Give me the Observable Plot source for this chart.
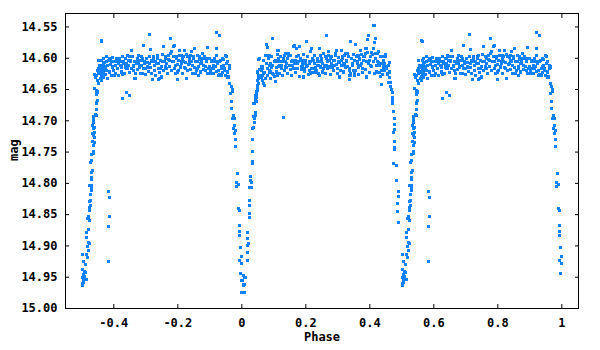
<!DOCTYPE html>
<html><head><meta charset="utf-8">
<script src="https://cdn.jsdelivr.net/npm/d3@7"></script>
<script src="https://cdn.jsdelivr.net/npm/@observablehq/plot@0.6"></script>
<style>
html,body{margin:0;padding:0;background:#fff;}
#chart svg{display:block;}
</style>
</head><body><div id="chart"></div>
<script>
// Tick values and labels
const xTicks = [-0.4, -0.2, 0, 0.2, 0.4, 0.6, 0.8, 1];
const xTickLabels = ["-0.4", "-0.2", "0", "0.2", "0.4", "0.6", "0.8", "1"];
const yTicks = [14.55, 14.60, 14.65, 14.70, 14.75, 14.80, 14.85, 14.90, 14.95, 15.00];
const yTickLabels = ["14.55", "14.60", "14.65", "14.70", "14.75", "14.80", "14.85", "14.90", "14.95", "15.00"];

// [phase, mag] observations, phase in [0, 1)
const secEgress = [
[0.000,14.956],[0.003,14.955],[0.006,14.961],[0.009,14.961],[0.006,14.964],[0.000,14.974],[0.006,14.974],[0.009,14.974],
[0.009,14.950],[0.012,14.951],[0.004,14.948],[0.019,14.923],[0.019,14.911],[0.019,14.899],[0.022,14.896],[0.019,14.888],
[0.019,14.879],[0.025,14.855],[0.025,14.848],[0.025,14.835],[0.025,14.827],[0.031,14.807],[0.025,14.806],[0.031,14.799],
[0.028,14.795],[0.028,14.789],[0.034,14.769],[0.034,14.765],[0.034,14.749],[0.034,14.730],[0.034,14.712],[0.0375,14.711],
[0.041,14.702],[0.041,14.697],[0.0375,14.693],[0.044,14.691],[0.044,14.687],[0.0375,14.672],[0.047,14.669],[0.044,14.665],
[0.047,14.662],[0.044,14.659],[0.047,14.655],[0.050,14.652]
];
const plateauA = [
[0.038,14.672],[0.044,14.667],[0.044,14.662],[0.047,14.658],[0.047,14.653],[0.050,14.647],[0.050,14.644],[0.053,14.641],
[0.050,14.636],[0.053,14.633],[0.053,14.627],[0.050,14.622],[0.056,14.618],[0.053,14.602],[0.056,14.600],[0.060,14.619],
[0.063,14.627],[0.066,14.617],[0.069,14.625],[0.069,14.641],[0.072,14.643],[0.075,14.596],[0.078,14.578],[0.081,14.583],
[0.078,14.595],[0.085,14.596],[0.088,14.598],[0.085,14.611],[0.081,14.617],[0.088,14.622],[0.091,14.609],[0.094,14.614],
[0.097,14.569],[0.100,14.626],[0.103,14.606],[0.106,14.637],[0.110,14.628],[0.113,14.587],[0.113,14.606],[0.116,14.601],
[0.119,14.611],[0.122,14.598],[0.125,14.617],[0.128,14.606],[0.131,14.601],[0.135,14.614],[0.138,14.593],[0.141,14.609],
[0.144,14.601],[0.147,14.596],[0.150,14.611],[0.153,14.595],[0.156,14.606],[0.160,14.582],[0.163,14.617],[0.166,14.580],
[0.169,14.603],[0.172,14.585],[0.175,14.609],[0.178,14.595],[0.181,14.582],[0.185,14.614],[0.188,14.603],[0.191,14.611],
[0.194,14.630],[0.197,14.617],[0.200,14.609],[0.203,14.573],[0.206,14.611],[0.210,14.619],[0.213,14.606],[0.216,14.625],
[0.219,14.585],[0.222,14.601],[0.225,14.617],[0.228,14.609],[0.231,14.622],[0.235,14.611],[0.238,14.606],[0.241,14.625],
[0.244,14.585],[0.247,14.614],[0.250,14.601],[0.253,14.609],[0.256,14.617],[0.260,14.598],[0.263,14.611],[0.266,14.564],
[0.269,14.606],[0.272,14.590],[0.275,14.614],[0.278,14.601],[0.281,14.609],[0.285,14.619],[0.288,14.603],[0.291,14.611],
[0.294,14.595],[0.297,14.587],[0.300,14.617],[0.303,14.606],[0.306,14.630],[0.310,14.587],[0.313,14.611],[0.316,14.601],
[0.319,14.609],[0.322,14.595],[0.325,14.614],[0.328,14.606],[0.331,14.593],[0.335,14.619],[0.338,14.627],[0.341,14.574],
[0.344,14.601],[0.347,14.611],[0.350,14.619],[0.353,14.625],[0.356,14.578],[0.360,14.606],[0.363,14.595],[0.366,14.614],
[0.369,14.601],[0.372,14.587],[0.375,14.609],[0.378,14.617],[0.381,14.598],[0.385,14.593],[0.388,14.585],[0.391,14.630],
[0.394,14.570],[0.397,14.563],[0.400,14.603],[0.403,14.611],[0.406,14.591],[0.410,14.585],[0.413,14.547],[0.416,14.575],
[0.419,14.569],[0.419,14.593],[0.422,14.622],[0.425,14.606],[0.428,14.590],[0.431,14.611],[0.435,14.642],[0.438,14.619],
[0.441,14.598],[0.444,14.614],[0.447,14.609],[0.450,14.594],[0.453,14.617],[0.456,14.626],[0.460,14.607],[0.463,14.638],
[0.466,14.645],[0.460,14.622],[0.130,14.694],[0.305,14.631],[0.3375,14.634],[0.352,14.627],[0.390,14.631],[0.433,14.629],
[0.061,14.631],[0.063,14.614],[0.066,14.636],[0.068,14.604],[0.072,14.623],[0.073,14.632],[0.076,14.609],[0.079,14.627],
[0.082,14.601],[0.086,14.619],[0.089,14.633],[0.092,14.598],[0.095,14.624],[0.097,14.611],[0.101,14.629],[0.104,14.604],
[0.107,14.615],[0.109,14.622],[0.112,14.594],[0.116,14.613],[0.118,14.625],[0.121,14.605],[0.124,14.611],[0.127,14.628],
[0.132,14.596],[0.134,14.619],[0.137,14.606],[0.140,14.615],[0.143,14.624],[0.146,14.592],[0.151,14.618],[0.154,14.627],
[0.157,14.603],[0.159,14.612],[0.165,14.609],[0.167,14.623],[0.170,14.597],[0.173,14.616],[0.176,14.606],[0.179,14.629],
[0.182,14.600],[0.187,14.618],[0.189,14.608],[0.192,14.594],[0.195,14.621],[0.198,14.603],[0.201,14.613],[0.204,14.598],
[0.207,14.626],[0.212,14.609],[0.215,14.590],[0.218,14.617],[0.220,14.623],[0.223,14.604],[0.226,14.596],[0.229,14.615],
[0.232,14.620],[0.237,14.600],[0.240,14.611],[0.243,14.628],[0.246,14.596],[0.249,14.606],[0.252,14.622],[0.255,14.592],
[0.257,14.613],[0.262,14.624],[0.265,14.600],[0.268,14.617],[0.271,14.595],[0.274,14.603],[0.277,14.626],[0.280,14.598],
[0.282,14.614],[0.287,14.620],[0.290,14.603],[0.293,14.593],[0.296,14.610],[0.299,14.624],[0.302,14.599],[0.305,14.607],
[0.308,14.620],[0.312,14.604],[0.315,14.597],[0.318,14.622],[0.321,14.609],[0.324,14.592],[0.327,14.603],[0.330,14.613],
[0.333,14.598],[0.337,14.616],[0.340,14.624],[0.343,14.600],[0.346,14.609],[0.349,14.594],[0.352,14.604],[0.355,14.620],
[0.359,14.597],[0.362,14.608],[0.365,14.626],[0.368,14.602],[0.371,14.611],[0.374,14.594],[0.377,14.623],[0.380,14.604],
[0.384,14.598],[0.387,14.618],[0.390,14.606],[0.393,14.591],[0.396,14.609],[0.399,14.623],[0.402,14.598],[0.405,14.613],
[0.409,14.594],[0.412,14.605],[0.415,14.625],[0.418,14.600],[0.421,14.611],[0.424,14.592],[0.427,14.607],[0.430,14.623],
[0.434,14.597],[0.437,14.609],[0.440,14.626],[0.443,14.603],[0.446,14.619],[0.449,14.598],[0.452,14.613],[0.455,14.624],
[0.458,14.611],[0.461,14.631]
];
const priIngress = [
[0.468,14.650],[0.470,14.655],[0.459,14.638],[0.465,14.645],[0.472,14.663],[0.472,14.667],[0.472,14.673],[0.475,14.685],
[0.478,14.697],[0.478,14.706],[0.478,14.714],[0.475,14.719],[0.478,14.733],[0.478,14.742],[0.478,14.746],[0.475,14.769],
[0.484,14.772],[0.484,14.796],[0.491,14.813],[0.491,14.821],[0.487,14.832],[0.487,14.845],[0.491,14.863]
];
const priEgress = [
[0.547,14.653],[0.550,14.653],[0.547,14.657],[0.547,14.670],[0.550,14.668],[0.547,14.673],[0.547,14.682],[0.544,14.690],
[0.547,14.692],[0.5375,14.693],[0.5375,14.698],[0.5375,14.702],[0.534,14.708],[0.541,14.710],[0.5375,14.713],[0.541,14.718],
[0.534,14.721],[0.5375,14.724],[0.541,14.726],[0.534,14.733],[0.541,14.735],[0.5375,14.740],[0.5375,14.749],[0.5375,14.752],
[0.531,14.754],[0.531,14.764],[0.528,14.767],[0.534,14.780],[0.531,14.783],[0.531,14.791],[0.531,14.794],[0.525,14.804],
[0.531,14.804],[0.531,14.807],[0.531,14.812],[0.528,14.818],[0.528,14.828],[0.525,14.829],[0.528,14.836],[0.525,14.839],
[0.525,14.843],[0.522,14.853],[0.522,14.856],[0.519,14.856],[0.525,14.859],[0.522,14.874],[0.516,14.879],[0.516,14.887],
[0.522,14.895],[0.525,14.896],[0.519,14.901],[0.522,14.907],[0.516,14.914],[0.519,14.919],[0.512,14.930],[0.506,14.925],
[0.503,14.914],[0.503,14.937],[0.509,14.941],[0.512,14.943],[0.506,14.946],[0.509,14.949],[0.506,14.954],[0.516,14.954],
[0.503,14.951],[0.506,14.959],[0.503,14.963],[0.501,14.960],[0.504,14.957]
];
const plateauB = [
[0.541,14.648],[0.547,14.651],[0.550,14.654],[0.547,14.658],[0.553,14.640],[0.550,14.635],[0.544,14.630],[0.541,14.626],
[0.547,14.627],[0.553,14.625],[0.556,14.622],[0.560,14.630],[0.563,14.627],[0.566,14.625],[0.569,14.622],[0.550,14.619],
[0.553,14.617],[0.556,14.611],[0.560,14.614],[0.563,14.617],[0.566,14.611],[0.569,14.609],[0.572,14.617],[0.575,14.614],
[0.578,14.606],[0.581,14.611],[0.553,14.603],[0.563,14.603],[0.569,14.601],[0.578,14.598],[0.585,14.601],[0.588,14.603],
[0.591,14.601],[0.594,14.606],[0.597,14.614],[0.600,14.619],[0.603,14.627],[0.606,14.611],[0.610,14.606],[0.613,14.603],
[0.616,14.609],[0.619,14.601],[0.622,14.606],[0.625,14.614],[0.628,14.626],[0.631,14.606],[0.635,14.614],[0.638,14.601],
[0.641,14.609],[0.644,14.617],[0.647,14.603],[0.650,14.598],[0.653,14.606],[0.656,14.587],[0.660,14.611],[0.663,14.619],
[0.666,14.632],[0.669,14.632],[0.672,14.606],[0.675,14.601],[0.678,14.609],[0.681,14.603],[0.685,14.598],[0.688,14.611],
[0.691,14.625],[0.694,14.579],[0.697,14.606],[0.700,14.617],[0.703,14.601],[0.706,14.614],[0.710,14.562],[0.713,14.609],
[0.716,14.586],[0.719,14.603],[0.722,14.634],[0.725,14.598],[0.728,14.611],[0.731,14.606],[0.735,14.601],[0.738,14.595],
[0.741,14.609],[0.744,14.632],[0.747,14.617],[0.750,14.630],[0.753,14.606],[0.756,14.582],[0.760,14.614],[0.763,14.601],
[0.766,14.609],[0.769,14.625],[0.772,14.595],[0.775,14.603],[0.778,14.569],[0.781,14.590],[0.785,14.582],[0.788,14.606],
[0.791,14.579],[0.794,14.611],[0.797,14.598],[0.800,14.622],[0.803,14.603],[0.806,14.587],[0.810,14.609],[0.813,14.595],
[0.816,14.601],[0.819,14.606],[0.822,14.587],[0.825,14.617],[0.828,14.632],[0.831,14.598],[0.835,14.609],[0.838,14.603],
[0.841,14.595],[0.844,14.589],[0.847,14.611],[0.850,14.601],[0.853,14.585],[0.856,14.625],[0.860,14.606],[0.863,14.617],
[0.866,14.627],[0.869,14.598],[0.872,14.609],[0.875,14.603],[0.878,14.593],[0.881,14.611],[0.885,14.601],[0.888,14.619],
[0.891,14.606],[0.894,14.583],[0.897,14.617],[0.900,14.601],[0.903,14.625],[0.906,14.603],[0.910,14.611],[0.913,14.617],
[0.916,14.606],[0.922,14.585],[0.922,14.595],[0.925,14.609],[0.928,14.627],[0.931,14.606],[0.935,14.617],[0.938,14.614],
[0.941,14.601],[0.944,14.611],[0.947,14.617],[0.950,14.596],[0.953,14.598],[0.956,14.605],[0.960,14.611],[0.963,14.614],
[0.956,14.631],[0.960,14.617],[0.935,14.627],[0.922,14.559],[0.931,14.564],[0.560,14.571],[0.563,14.574],
[0.740,14.634],[0.799,14.634],
[0.557,14.632],[0.558,14.621],[0.561,14.636],[0.565,14.613],[0.567,14.630],[0.570,14.607],[0.573,14.626],[0.576,14.619],
[0.579,14.633],[0.582,14.603],[0.587,14.622],[0.590,14.610],[0.593,14.628],[0.596,14.599],[0.599,14.619],[0.602,14.605],
[0.605,14.624],[0.608,14.600],[0.612,14.617],[0.615,14.627],[0.618,14.603],[0.621,14.612],[0.624,14.622],[0.627,14.598],
[0.630,14.609],[0.633,14.625],[0.637,14.601],[0.640,14.616],[0.643,14.595],[0.646,14.611],[0.649,14.623],[0.652,14.604],
[0.655,14.617],[0.658,14.597],[0.662,14.613],[0.665,14.605],[0.668,14.624],[0.671,14.609],[0.674,14.618],[0.677,14.596],
[0.680,14.614],[0.683,14.625],[0.687,14.603],[0.690,14.600],[0.693,14.617],[0.696,14.608],[0.699,14.626],[0.702,14.601],
[0.705,14.607],[0.708,14.621],[0.712,14.597],[0.715,14.615],[0.718,14.624],[0.721,14.606],[0.724,14.600],[0.727,14.619],
[0.730,14.627],[0.733,14.608],[0.737,14.598],[0.740,14.617],[0.743,14.623],[0.746,14.603],[0.749,14.613],[0.752,14.594],
[0.755,14.620],[0.758,14.606],[0.762,14.598],[0.765,14.616],[0.768,14.624],[0.771,14.602],[0.774,14.613],[0.777,14.593],
[0.780,14.619],[0.783,14.605],[0.787,14.597],[0.790,14.616],[0.793,14.624],[0.796,14.601],[0.799,14.610],[0.802,14.620],
[0.805,14.596],[0.808,14.614],[0.812,14.605],[0.815,14.624],[0.818,14.598],[0.821,14.615],[0.824,14.607],[0.827,14.594],
[0.830,14.620],[0.833,14.610],[0.837,14.599],[0.840,14.618],[0.843,14.605],[0.846,14.625],[0.849,14.597],[0.852,14.615],
[0.855,14.606],[0.858,14.620],[0.862,14.595],[0.865,14.613],[0.868,14.602],[0.871,14.622],[0.874,14.609],[0.877,14.600],
[0.880,14.618],[0.883,14.597],[0.887,14.613],[0.890,14.605],[0.893,14.624],[0.896,14.600],[0.899,14.614],[0.902,14.620],
[0.905,14.606],[0.909,14.616],[0.912,14.625],[0.915,14.600],[0.918,14.613],[0.921,14.621],[0.924,14.606],[0.927,14.619],
[0.930,14.626],[0.934,14.604],[0.937,14.616],[0.940,14.623],[0.943,14.602],[0.946,14.620],[0.949,14.628],[0.952,14.609],
[0.955,14.622],[0.959,14.630]
];
const secIngress = [
[0.963,14.640],[0.968,14.645],[0.970,14.650],[0.966,14.656],[0.972,14.653],[0.969,14.669],[0.969,14.680],[0.975,14.692],
[0.972,14.696],[0.978,14.696],[0.978,14.708],[0.975,14.712],[0.981,14.716],[0.978,14.720],[0.981,14.730],[0.981,14.741],
[0.9875,14.784],[0.984,14.799],[0.991,14.802],[0.984,14.805],[0.991,14.840],[0.994,14.843],[0.994,14.867],[0.994,14.877],
[0.994,14.883],[0.997,14.902],[0.999,14.917],[0.994,14.923],[0.999,14.928],[0.997,14.944]
];
const outliers = [
[0.584,14.813],[0.5875,14.823],[0.5875,14.853],[0.584,14.869],[0.584,14.925],
[0.628,14.664],[0.639,14.655],[0.648,14.660]
];

const observations = [...secEgress, ...plateauA, ...priIngress, ...priEgress, ...plateauB, ...secIngress, ...outliers];
// phases 0.5..1 are also shown one cycle earlier (-0.5..0)
const rows = [];
for (const [p, m] of observations) {
  rows.push({phase: p, mag: m});
  if (p >= 0.5) rows.push({phase: p - 1, mag: m});
}

const xLab = new Map(xTicks.map((t, i) => [t, xTickLabels[i]]));
const yLab = new Map(yTicks.map((t, i) => [t, yTickLabels[i]]));
const color = "#0f80ff";

const chart = Plot.plot({
  width: 600, height: 350,
  marginLeft: 65, marginRight: 22, marginTop: 13, marginBottom: 42,
  style: {fontFamily: "'DejaVu Sans Mono', monospace", fontSize: "12px", fontWeight: "bold", color: "#000", background: "#fff", overflow: "visible"},
  x: {domain: [-0.551, 1.052]},
  y: {domain: [15.0, 14.5285]},
  marks: [
    Plot.dot(rows, {x: "phase", y: "mag", symbol: "square", r: 1.7, fill: color, shapeRendering: "crispEdges"}),
    Plot.frame({stroke: "#000"}),
    Plot.axisX({ticks: xTicks, anchor: "bottom", tickSize: -4, fill: "none", label: null}),
    Plot.axisX({ticks: xTicks, anchor: "top", tickSize: -4, fill: "none", label: null}),
    Plot.axisX({ticks: xTicks, anchor: "bottom", tickSize: 0, tickPadding: 10, tickFormat: d => xLab.get(d), label: null}),
    Plot.axisY({ticks: yTicks, anchor: "left", tickSize: -4, fill: "none", label: null}),
    Plot.axisY({ticks: yTicks, anchor: "right", tickSize: -4, fill: "none", label: null}),
    Plot.axisY({ticks: yTicks, anchor: "left", tickSize: 0, tickPadding: 8, tickFormat: d => yLab.get(d), label: null}),
    Plot.text(["Phase"], {frameAnchor: "bottom", dy: 32, text: d => d, fontWeight: "bold"}),
    Plot.text(["mag"], {frameAnchor: "left", dx: -51, rotate: -90, text: d => d, fontWeight: "bold"})
  ]
});
document.getElementById("chart").appendChild(chart);
</script>
</body></html>
